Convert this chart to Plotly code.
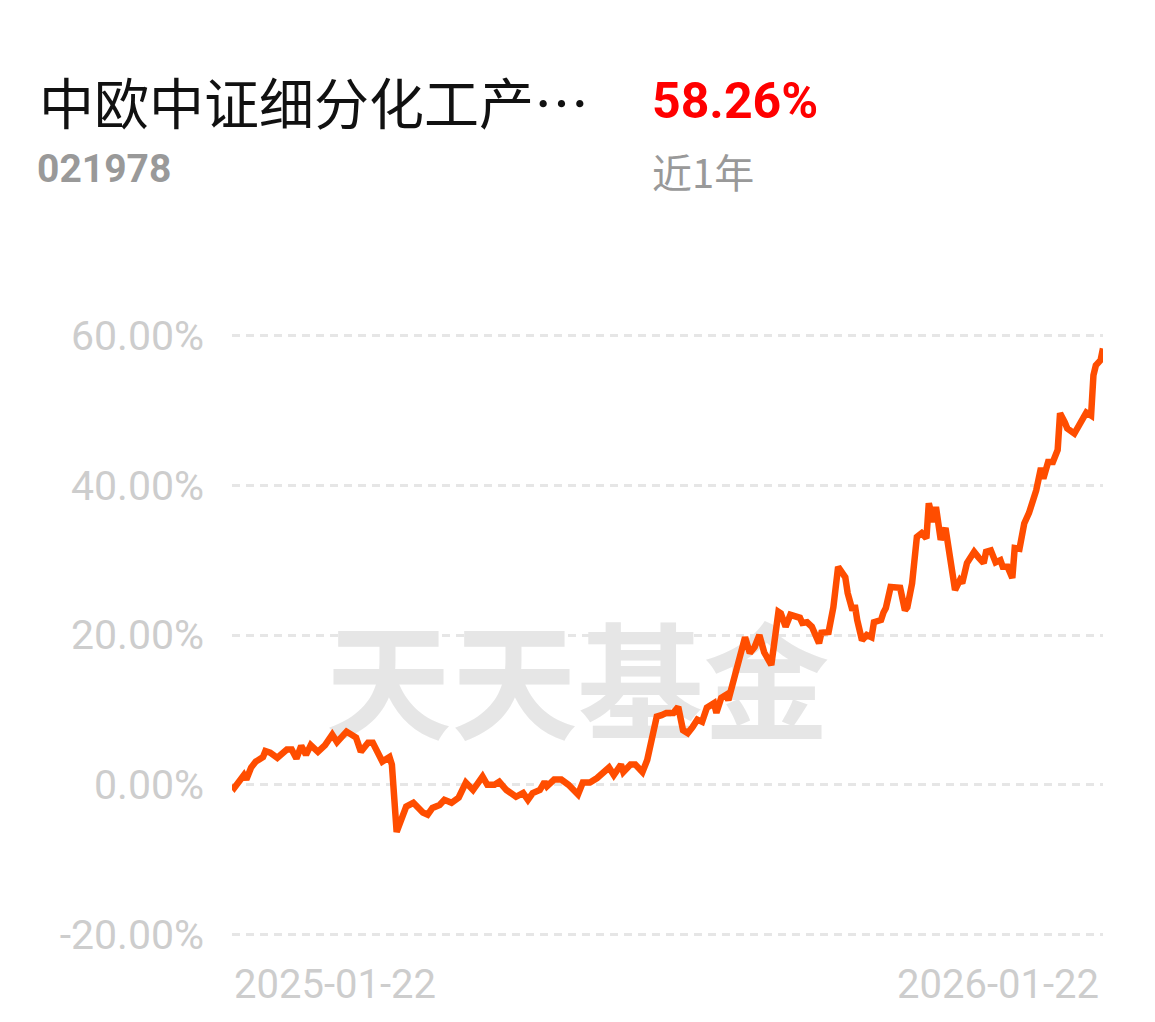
import pandas as pd
import plotly.graph_objects as go

# ---------------- data ----------------
fund_name = "中欧中证细分化工产…"
fund_code = "021978"
period_return = "58.26%"
period_label = "近1年"
watermark = "天天基金"
start_date = "2025-01-22"
date_labels = ["2025-01-22", "2026-01-22"]

# calendar-day offsets from start_date
day_offsets = [
    0, 1, 5, 6, 8, 10, 13, 14, 16, 19, 23, 25, 27, 29, 31, 33, 36, 39, 42, 44,
    48, 52, 54, 57, 59, 63, 66, 67, 69, 71, 73, 76, 80, 82, 84, 87, 89, 92, 95, 98,
    101, 105, 107, 110, 112, 115, 119, 122, 124, 126, 129, 131, 132, 135, 138, 141, 145, 147, 150, 153,
    156, 158, 160, 163, 164, 167, 169, 172, 174, 176, 178, 180, 182, 185, 187, 189, 191, 193, 195, 197,
    199, 202, 203, 205, 207, 208, 211, 213, 215, 217, 219, 221, 223, 226, 229, 230, 232, 234, 236, 238,
    239, 241, 243, 246, 247, 250, 252, 254, 257, 258, 260, 261, 262, 264, 266, 268, 269, 272, 273, 274,
    276, 278, 280, 282, 283, 285, 287, 289, 291, 292, 294, 295, 297, 299, 300, 302, 303, 305, 306, 308,
    311, 313, 315, 316, 318, 320, 322, 323, 325, 327, 328, 330, 332, 334, 336, 337, 339, 340, 342, 344,
    346, 347, 349, 350, 353, 355, 357, 358, 360, 361, 362, 364, 365,
]
# cumulative return, %
returns = [
    0.0, -0.4, 1.3, 0.7, 2.3, 3.1, 3.7, 4.5, 4.3, 3.6, 4.7, 4.7, 3.5, 5.2, 4.0, 5.3, 4.4, 5.3, 6.7, 5.7,
    7.1, 6.3, 4.4, 5.6, 5.6, 3.1, 3.7, 2.7, -6.3, -4.3, -2.9, -2.4, -3.7, -4.0, -3.1, -2.7, -2.0, -2.4, -1.7, 0.3,
    -0.7, 1.1, 0.0, 0.0, 0.4, -0.7, -1.6, -1.1, -2.0, -1.1, -0.7, 0.4, -0.2, 0.7, 0.7, 0.0, -1.3, 0.3, 0.3, 0.9,
    1.6, 2.3, 1.3, 2.7, 1.7, 2.7, 2.7, 1.7, 3.3, 6.4, 9.1, 9.3, 9.6, 9.6, 10.4, 7.3, 6.9, 7.7, 8.7, 8.4,
    10.3, 10.9, 9.6, 11.6, 12.0, 11.3, 14.7, 16.7, 19.7, 17.6, 18.4, 20.0, 17.7, 16.0, 23.1, 22.9, 21.1, 22.7, 22.4, 22.3,
    21.6, 21.7, 21.1, 18.9, 20.3, 20.4, 23.7, 29.1, 27.7, 25.6, 23.3, 24.0, 22.0, 19.3, 20.0, 19.7, 21.7, 22.0, 23.0, 23.6,
    26.4, 26.4, 26.3, 23.3, 23.7, 26.9, 33.1, 33.6, 32.9, 37.6, 35.1, 37.1, 32.7, 34.3, 32.4, 27.7, 26.0, 27.3, 26.9, 29.6,
    31.1, 30.3, 29.6, 31.1, 31.3, 29.7, 30.0, 29.1, 29.1, 27.6, 31.6, 31.5, 34.9, 36.3, 38.0, 39.3, 42.3, 40.9, 43.1, 43.1,
    44.7, 49.6, 48.4, 47.6, 46.9, 48.0, 49.1, 49.7, 49.3, 54.7, 56.0, 56.7, 58.26,
]
y_tickvals = [-20, 0, 20, 40, 60]
y_ticktext = ["-20.00%", "0.00%", "20.00%", "40.00%", "60.00%"]

# ---------------- layout geometry ----------------
W, H = 1155, 1022
L, R = 232, 52
T, B = 297.5, 49.5
PW, PH = W - L - R, H - T - B


def px(x):
    return (x - L) / PW


def py(y):
    return (H - B - y) / PH


dates = pd.Timestamp(start_date) + pd.to_timedelta(day_offsets, unit="D")
end_date = pd.Timestamp(date_labels[-1])

LINE = "#ff4d00"
GRAY_TICK = "#cdcdcd"

fig = go.Figure()
fig.add_trace(go.Scatter(
    x=dates, y=returns, mode="lines",
    line=dict(color=LINE, width=6.5, shape="linear"),
    hoverinfo="skip", showlegend=False,
))

fig.update_layout(
    width=W, height=H,
    margin=dict(l=L, r=R, t=T, b=B, pad=0),
    paper_bgcolor="white", plot_bgcolor="white",
    showlegend=False,
    xaxis=dict(
        range=[pd.Timestamp(start_date), end_date],
        showgrid=False, zeroline=False, showline=False,
        showticklabels=False, ticks="",
    ),
    yaxis=dict(
        range=[-25, 65],
        tickvals=y_tickvals, ticktext=y_ticktext,
        showgrid=True, gridcolor="#e6e6e6", gridwidth=2.5, griddash="8px,6px",
        zeroline=False, showline=False, ticks="",
        ticklabelstandoff=27,
        tickfont=dict(family="Roboto", size=41, color=GRAY_TICK),
    ),
    shapes=[dict(
        type="rect", xref="paper", yref="paper",
        x0=px(333), x1=px(822), y0=py(755), y1=py(635),
        line=dict(width=0), fillcolor="rgba(0,0,0,0)", layer="below",
        label=dict(text=watermark, textposition="middle center",
                   font=dict(family="Noto Sans CJK SC", size=126, color="#e6e6e6", weight="bold")),
    )],
)

ann = [
    dict(text=fund_name, x=px(37), y=py(99), xanchor="left", yanchor="middle",
         font=dict(family="Noto Sans CJK SC", size=55, color="#111111")),
    dict(text=f"<b>{fund_code}</b>", x=px(35), y=py(168), xanchor="left", yanchor="middle",
         font=dict(family="Roboto", size=39, color="#999999")),
    dict(text=f"<b>{period_return}</b>", x=px(650), y=py(100), xanchor="left", yanchor="middle",
         font=dict(family="Roboto", size=50, color="#ff0000")),
    dict(text=period_label, x=px(650), y=py(170), xanchor="left", yanchor="middle",
         font=dict(family="Noto Sans CJK SC", size=40, color="#999999")),
    dict(text=date_labels[0], x=0, y=py(985), xanchor="left", yanchor="middle",
         font=dict(family="Roboto", size=40, color=GRAY_TICK)),
    dict(text=date_labels[1], x=px(1101), y=py(985), xanchor="right", yanchor="middle",
         font=dict(family="Roboto", size=40, color=GRAY_TICK)),
]
for a in ann:
    a.update(xref="paper", yref="paper", showarrow=False)
fig.update_layout(annotations=ann)

fig.write_html("out.html", config={"displayModeBar": False},
               post_script="document.body.style.margin='0';")
